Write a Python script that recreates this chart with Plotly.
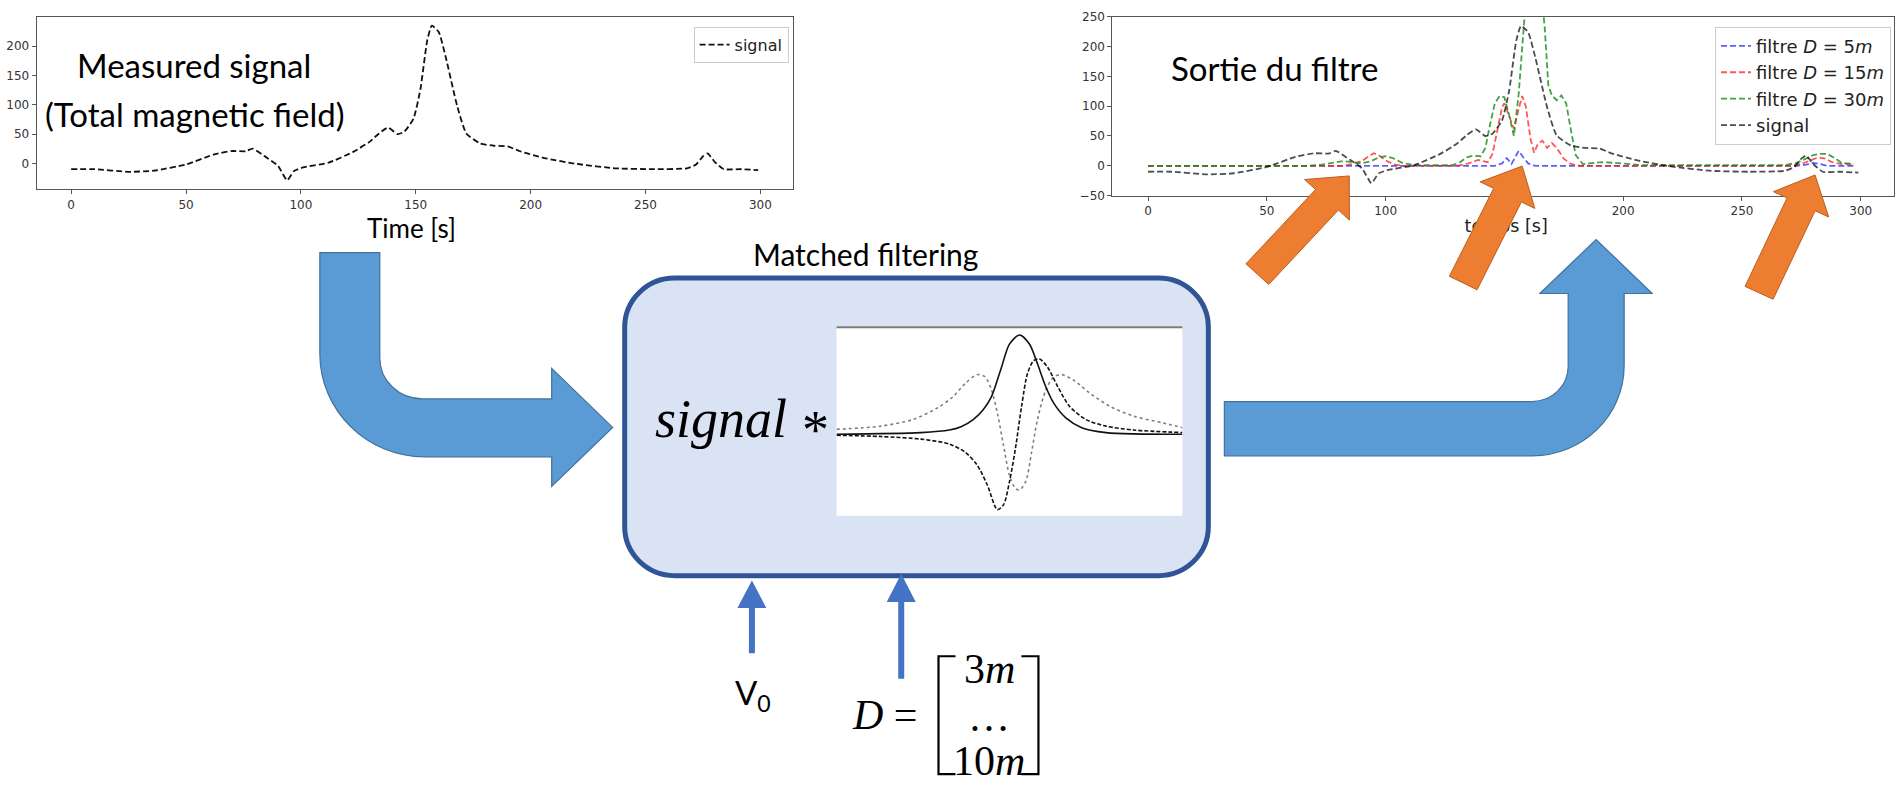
import plotly.graph_objects as go

W, H = 1895, 786

# ---------------- data ----------------
time_s = [0, 10, 25, 36, 50, 62, 70, 76, 79, 85, 90, 94, 97, 101, 112, 123, 130, 134, 138, 142,
          145, 149, 152, 155, 157, 160, 163, 168, 172, 178, 184, 190, 195, 206, 220, 237, 253,
          268, 272, 275, 277, 280, 284, 291, 299]
signal = [-10, -10, -14.5, -12.5, -2, 15, 21, 20.5, 25, 10, -4, -29, -13, -7, 1, 20, 37, 51, 61, 50,
          54, 76, 126, 210, 235, 224, 182, 98, 51, 34, 30, 29, 21, 9, -1, -8.5, -10,
          -8.5, -2, 12, 17, 3, -10, -10, -11.5]

t_d5 = [0, 146, 149, 151, 153, 156, 158, 160, 163, 273, 277, 280, 283, 286, 297]
filt_d5 = [0, 0, 4, 13, 3, 25, 14, 4, 0, 0, 2, 5, 3, 0, 0]

t_d15 = [0, 82, 86, 90, 93, 95, 97, 100, 103, 107, 130, 134, 137, 139, 141, 143, 145, 147, 149, 150,
         152, 154, 156, 157.5, 159, 161, 162.5, 164, 166, 168, 170, 172, 175, 178, 182, 270, 275,
         279, 282, 285, 288, 292, 297]
filt_d15 = [0, 0, 3, 8, 16, 21, 18, 9, 3, 0, 0, 3, 7, 10, 8, 6, 20, 60, 98, 105,
            85, 62, 95, 117, 100, 45, 22, 36, 42, 30, 38, 30, 12, 3, 0, 0, 3,
            9, 14, 12, 6, 3, 2]

t_d30 = [0, 68, 73, 78, 82, 86, 90, 94, 97, 100, 103, 107, 112, 128, 131, 134, 137, 140, 142, 144,
         146, 148, 150, 152, 154, 156, 158, 160, 163, 165, 167, 168.5, 170, 172, 174, 176, 178, 180,
         183, 187, 191, 196, 202, 208, 268, 273, 277, 280, 283, 286, 289, 292, 297]
filt_d30 = [0, 0, 2, 6, 8, 6, 4, 8, 14, 16, 13, 5, 1, 1, 5, 14, 17, 16, 30, 70,
            105, 117, 115, 85, 50, 120, 260, 330, 345, 320, 230, 135, 118, 110, 118, 105, 60, 18,
            3, 5, 6, 5, 3, 1, 1, 5, 12, 18, 20, 20, 13, 5, 3]

x_ticks = [0, 50, 100, 150, 200, 250, 300]
y_ticks_left = [0, 50, 100, 150, 200]
y_ticks_right = [-50, 0, 50, 100, 150, 200, 250]

# wavelet thumbnail (matched-filter kernels)
solid_x = [0, 24.4, 32.6, 36.0, 39.5, 42.4, 44.8, 47.7, 50.0, 52.9, 55.8, 58.1, 60.5, 62.8, 66.3, 70.9, 77.9, 100]
solid_y = [0, 0.017, 0.043, 0.077, 0.15, 0.25, 0.383, 0.683, 0.917, 1.01, 0.917, 0.717, 0.483, 0.317,
           0.167, 0.067, 0.017, 0]
dashed_x = [0, 12.8, 24.4, 32.6, 37.2, 40.7, 43.6, 46.5, 48.3, 50.0, 51.7, 53.5, 55.2, 57.0, 58.7,
            61.0, 64.0, 67.4, 72.1, 77.9, 86.0, 100]
dashed_y = [-0.01, -0.023, -0.05, -0.1, -0.183, -0.317, -0.517, -0.767, -0.717, -0.483, -0.15, 0.283,
            0.617, 0.75, 0.767, 0.683, 0.483, 0.283, 0.15, 0.083, 0.043, 0.017]
dotted_x = [0, 12.8, 22.1, 29.1, 33.7, 37.2, 40.7, 43.0, 44.8, 46.5, 48.3, 50.0, 51.7, 52.9, 54.7,
            56.4, 58.1, 60.5, 62.8, 65.1, 68.6, 73.3, 79.1, 86.0, 94.2, 100]
dotted_y = [0.05, 0.083, 0.15, 0.267, 0.383, 0.517, 0.607, 0.583, 0.45, 0.217, -0.117, -0.417, -0.55,
            -0.567, -0.483, -0.183, 0.15, 0.45, 0.583, 0.607, 0.55, 0.417, 0.283, 0.183, 0.117, 0.067]

# ---------------- helpers ----------------
def fx(x):
    return x / W

def fy(y):
    return 1 - y / H

def P(x, y):
    return f"{fx(x):.5f},{fy(y):.5f}"

def poly(pts):
    return "M " + " L ".join(P(x, y) for x, y in pts) + " Z"

K = 0.5523

def block_arrow(tail, tip, w, hw, hl):
    import math
    dx, dy = tip[0] - tail[0], tip[1] - tail[1]
    L = math.hypot(dx, dy)
    ux, uy = dx / L, dy / L
    nx, ny = -uy, ux
    bx, by = tip[0] - ux * hl, tip[1] - uy * hl
    pts = [(tail[0] + nx * w / 2, tail[1] + ny * w / 2),
           (bx + nx * w / 2, by + ny * w / 2),
           (bx + nx * hw / 2, by + ny * hw / 2),
           tip,
           (bx - nx * hw / 2, by - ny * hw / 2),
           (bx - nx * w / 2, by - ny * w / 2),
           (tail[0] - nx * w / 2, tail[1] - ny * w / 2)]
    return poly(pts)

fig = go.Figure()

dash_mpl = "6px,3px"

# left plot
fig.add_trace(go.Scatter(x=time_s, y=signal, mode="lines", name="signal",
                         line=dict(color="#111111", width=1.8, dash=dash_mpl, shape="spline", smoothing=0.5),
                         xaxis="x", yaxis="y", legend="legend"))

# right plot
fig.add_trace(go.Scatter(x=t_d5, y=filt_d5, mode="lines", name="filtre <i>D</i> = 5<i>m</i>",
                         line=dict(color="rgba(40,40,255,0.75)", width=1.8, dash=dash_mpl),
                         xaxis="x2", yaxis="y2", legend="legend2"))
fig.add_trace(go.Scatter(x=t_d15, y=filt_d15, mode="lines", name="filtre <i>D</i> = 15<i>m</i>",
                         line=dict(color="rgba(255,30,30,0.75)", width=1.8, dash=dash_mpl),
                         xaxis="x2", yaxis="y2", legend="legend2"))
fig.add_trace(go.Scatter(x=t_d30, y=filt_d30, mode="lines", name="filtre <i>D</i> = 30<i>m</i>",
                         line=dict(color="rgba(20,140,20,0.8)", width=1.8, dash=dash_mpl),
                         xaxis="x2", yaxis="y2", legend="legend2"))
fig.add_trace(go.Scatter(x=time_s, y=signal, mode="lines", name="signal",
                         line=dict(color="rgba(0,0,0,0.7)", width=1.8, dash=dash_mpl, shape="spline", smoothing=0.5),
                         xaxis="x2", yaxis="y2", legend="legend2"))

# wavelet thumbnail
fig.add_trace(go.Scatter(x=dotted_x, y=dotted_y, mode="lines", showlegend=False,
                         line=dict(color="#808080", width=1.6, dash="dot", shape="spline", smoothing=0.8),
                         xaxis="x3", yaxis="y3"))
fig.add_trace(go.Scatter(x=dashed_x, y=dashed_y, mode="lines", showlegend=False,
                         line=dict(color="#111111", width=1.6, dash="4px,2px", shape="spline", smoothing=0.8),
                         xaxis="x3", yaxis="y3"))
fig.add_trace(go.Scatter(x=solid_x, y=solid_y, mode="lines", showlegend=False,
                         line=dict(color="#111111", width=1.6, shape="spline", smoothing=0.8),
                         xaxis="x3", yaxis="y3"))

# x title of right plot on a full-canvas overlay axis (so the orange arrows can cover it)
fig.add_trace(go.Scatter(x=[1507], y=[224.7], mode="text", text=["temps [s]"], showlegend=False,
                         textfont=dict(family="DejaVu Sans", size=17.5, color="#222222"),
                         hoverinfo="skip", xaxis="x4", yaxis="y4"))

axis_common = dict(showline=True, mirror=True, linecolor="#555555", linewidth=1.2,
                   ticks="outside", ticklen=4, tickcolor="#555555", showgrid=False, zeroline=False,
                   tickfont=dict(family="DejaVu Sans", size=12, color="#333333"))

shapes = []
# rounded box
x0, y0, x1, y1, r = 625, 276, 1209, 579, 50
box_path = (f"M {P(x0 + r, y0)} L {P(x1 - r, y0)} "
            f"C {P(x1 - r + r * K, y0)} {P(x1, y0 + r - r * K)} {P(x1, y0 + r)} "
            f"L {P(x1, y1 - r)} "
            f"C {P(x1, y1 - r + r * K)} {P(x1 - r + r * K, y1)} {P(x1 - r, y1)} "
            f"L {P(x0 + r, y1)} "
            f"C {P(x0 + r - r * K, y1)} {P(x0, y1 - r + r * K)} {P(x0, y1 - r)} "
            f"L {P(x0, y0 + r)} "
            f"C {P(x0, y0 + r - r * K)} {P(x0 + r - r * K, y0)} {P(x0 + r, y0)} Z")
shapes.append(dict(type="path", path=box_path, xref="paper", yref="paper", layer="below",
                   fillcolor="#DAE3F3", line=dict(color="#2F5597", width=5)))
# thumbnail background
shapes.append(dict(type="rect", x0=fx(837), x1=fx(1183), y0=fy(518), y1=fy(325), xref="paper", yref="paper",
                   layer="below", fillcolor="white", line=dict(width=0)))
shapes.append(dict(type="line", x0=fx(837), x1=fx(1183), y0=fy(326), y1=fy(326), xref="paper", yref="paper",
                   layer="below", line=dict(color="#7a7a7a", width=2)))

# big blue bent arrows
ri, ro = 43, 105
left_arrow = (f"M {P(320, 250)} L {P(380, 250)} L {P(380, 357)} "
              f"C {P(380, 357 + ri * K)} {P(423 - ri * K, 399)} {P(423, 399)} "
              f"L {P(552, 399)} L {P(552, 368)} L {P(613, 428)} L {P(552, 488)} L {P(552, 458)} "
              f"L {P(425, 458)} C {P(425 - ro * K, 458)} {P(320, 353 + ro * K)} {P(320, 353)} Z")
shapes.append(dict(type="path", path=left_arrow, xref="paper", yref="paper", layer="below",
                   fillcolor="#5B9BD5", line=dict(color="#41719C", width=1.2)))
ri2, ro2 = 36, 92
right_arrow = (f"M {P(1225, 401.7)} L {P(1533, 401.7)} "
               f"C {P(1533 + ri2 * K, 401.7)} {P(1569, 365.7 + ri2 * K)} {P(1569, 365.7)} "
               f"L {P(1569, 291.7)} L {P(1540.7, 291.7)} L {P(1597, 236.7)} L {P(1653, 291.7)} "
               f"L {P(1625, 291.7)} L {P(1625, 365)} "
               f"C {P(1625, 365 + ro2 * K)} {P(1533 + ro2 * K, 457)} {P(1533, 457)} "
               f"L {P(1225, 457)} Z")
shapes.append(dict(type="path", path=right_arrow, xref="paper", yref="paper", layer="below",
                   fillcolor="#5B9BD5", line=dict(color="#41719C", width=1.2)))

# small blue input arrows
for cx, tip_y, base_y, bot_y in [(752.3, 584, 612, 658), (901.7, 577, 605.7, 684)]:
    pts = [(cx - 3, bot_y), (cx - 3, base_y), (cx - 14.5, base_y), (cx, tip_y),
           (cx + 14.5, base_y), (cx + 3, base_y), (cx + 3, bot_y)]
    shapes.append(dict(type="path", path=poly(pts), xref="paper", yref="paper", layer="below",
                       fillcolor="#4472C4", line=dict(width=0)))

# matrix brackets
lb = [(956, 661), (939, 661), (939, 781), (956, 781)]
rb = [(1022, 661), (1039, 661), (1039, 781), (1022, 781)]
for b in (lb, rb):
    shapes.append(dict(type="path", path="M " + " L ".join(P(x, y) for x, y in b),
                       xref="paper", yref="paper", layer="below", line=dict(color="black", width=2.2)))

# orange arrows (above the right chart)
for tail, tip in [((1258, 272), (1350, 172)), ((1464, 281), (1523, 162)), ((1760, 291), (1816, 171))]:
    shapes.append(dict(type="path", path=block_arrow(tail, tip, 31, 61, 33), xref="paper", yref="paper",
                       layer="above", fillcolor="#ED7D31", line=dict(color="#B85F22", width=1)))

def ann(text, x, y, size, family="Lato", color="black"):
    return dict(text=text, x=fx(x), y=fy(y), xref="paper", yref="paper", showarrow=False,
                xanchor="center", yanchor="middle", font=dict(family=family, size=size, color=color))

annotations = [
    ann("Measured signal", 194, 59, 33),
    ann("(Total magnetic field)", 195, 109, 33),
    ann("Sortie du filtre", 1275, 62, 33),
    ann("Time [s]", 412, 225, 26),
    ann("Matched filtering", 866, 251, 30),
    ann("<i>signal</i>", 721, 419, 54, family="Liberation Serif"),
    ann("*", 816, 431, 54, family="Liberation Serif"),
    ann("V<sub>0</sub>", 753, 700, 33),
    ann("<i>D</i> =", 885, 721, 42, family="Liberation Serif"),
    ann("3<i>m</i>", 990, 674, 42, family="Liberation Serif"),
    ann("\u2026", 990, 723, 42, family="Liberation Serif"),
    ann("10<i>m</i>", 990, 768, 42, family="Liberation Serif"),
]

legend_style = dict(bgcolor="rgba(255,255,255,0.85)", bordercolor="#cccccc", borderwidth=1,
                    xanchor="right", yanchor="top", itemwidth=30, tracegroupgap=0)

fig.update_layout(
    width=W, height=H, autosize=False,
    margin=dict(l=0, r=0, t=0, b=0),
    paper_bgcolor="white", plot_bgcolor="rgba(0,0,0,0)",
    xaxis=dict(domain=[fx(36.7), fx(793)], range=[-15, 314], tickvals=x_ticks, anchor="y", **axis_common),
    yaxis=dict(domain=[fy(185.7), fy(10)], range=[-44.5, 250], tickvals=y_ticks_left, anchor="x", **axis_common),
    xaxis2=dict(domain=[fx(1113), 1.0], range=[-15, 314], tickvals=x_ticks, anchor="y2", **axis_common),
    yaxis2=dict(domain=[fy(192), fy(10)], range=[-50, 250], tickvals=y_ticks_right, anchor="x2", **axis_common),
    xaxis3=dict(domain=[fx(837), fx(1183)], range=[0, 100], visible=False, anchor="y3"),
    yaxis3=dict(domain=[fy(518), fy(325)], range=[-0.83, 1.10], visible=False, anchor="x3"),
    xaxis4=dict(domain=[0, 1], range=[0, W], visible=False, anchor="y4", fixedrange=True),
    yaxis4=dict(domain=[0, 1], range=[H, 0], visible=False, anchor="x4", fixedrange=True),
    legend=dict(x=fx(789), y=fy(20), font=dict(family="DejaVu Sans", size=16, color="#222"), **legend_style),
    legend2=dict(x=fx(1892), y=fy(20), font=dict(family="DejaVu Sans", size=18, color="#222"), **legend_style),
    shapes=shapes,
    annotations=annotations,
    showlegend=True,
)

fig.write_html("out.html", config={"displayModeBar": False},
               post_script="document.body.style.margin='0';")
